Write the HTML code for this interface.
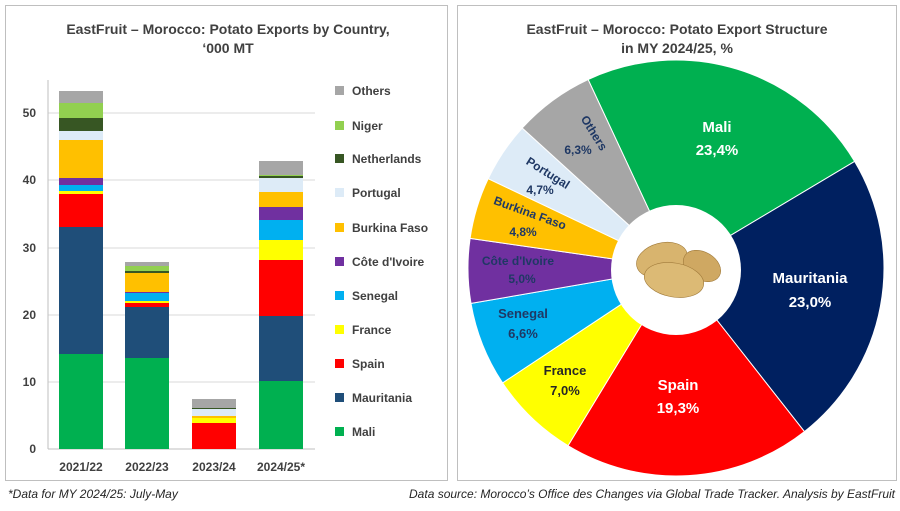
<!DOCTYPE html>
<html><head><meta charset="utf-8"><style>
body{margin:0;width:900px;height:506px;background:#fff;font-family:"Liberation Sans",sans-serif;overflow:hidden}
</style></head><body>
<svg width="900" height="506" viewBox="0 0 900 506" xmlns="http://www.w3.org/2000/svg" font-family="Liberation Sans, sans-serif">
<rect x="5.5" y="5.5" width="442" height="475" fill="#fff" stroke="#bfbfbf"/>
<rect x="457.5" y="5.5" width="439" height="475" fill="#fff" stroke="#bfbfbf"/>
<g font-weight="bold" font-size="14" fill="#404040" text-anchor="middle">
<text x="228" y="34">EastFruit – Morocco: Potato Exports by Country,</text>
<text x="228" y="53">‘000 MT</text>
<text x="677" y="34">EastFruit – Morocco: Potato Export Structure</text>
<text x="677" y="53">in MY 2024/25, %</text>
</g>
<g stroke="#d9d9d9" stroke-width="1">
<line x1="48" y1="382" x2="315" y2="382"/><line x1="48" y1="315" x2="315" y2="315"/>
<line x1="48" y1="248" x2="315" y2="248"/><line x1="48" y1="180" x2="315" y2="180"/>
<line x1="48" y1="113" x2="315" y2="113"/>
</g>
<line x1="48" y1="80" x2="48" y2="449" stroke="#bfbfbf"/>
<line x1="48" y1="449" x2="315" y2="449" stroke="#bfbfbf"/>
<g font-weight="bold" font-size="12" fill="#404040" text-anchor="end">
<text x="36" y="453">0</text><text x="36" y="386">10</text><text x="36" y="319">20</text>
<text x="36" y="252">30</text><text x="36" y="184">40</text><text x="36" y="117">50</text>
</g>
<g font-weight="bold" font-size="12" fill="#404040" text-anchor="middle">
<text x="81" y="471">2021/22</text><text x="147" y="471">2022/23</text>
<text x="214" y="471">2023/24</text><text x="281" y="471">2024/25*</text>
</g>
<g>
<rect x="59" y="354" width="44" height="95" fill="#00b050"/>
<rect x="59" y="227" width="44" height="127" fill="#1f4e79"/>
<rect x="59" y="194" width="44" height="33" fill="#ff0000"/>
<rect x="59" y="191" width="44" height="3" fill="#ffff00"/>
<rect x="59" y="185" width="44" height="6" fill="#00b0f0"/>
<rect x="59" y="178" width="44" height="7" fill="#7030a0"/>
<rect x="59" y="140" width="44" height="38" fill="#ffc000"/>
<rect x="59" y="131" width="44" height="9" fill="#ddebf7"/>
<rect x="59" y="118" width="44" height="13" fill="#375623"/>
<rect x="59" y="103" width="44" height="15" fill="#92d050"/>
<rect x="59" y="91" width="44" height="12" fill="#a6a6a6"/>

<rect x="125" y="358" width="44" height="91" fill="#00b050"/>
<rect x="125" y="307" width="44" height="51" fill="#1f4e79"/>
<rect x="125" y="303" width="44" height="4" fill="#ff0000"/>
<rect x="125" y="301" width="44" height="2" fill="#ffff00"/>
<rect x="125" y="293" width="44" height="8" fill="#00b0f0"/>
<rect x="125" y="292" width="44" height="1" fill="#7030a0"/>
<rect x="125" y="273" width="44" height="19" fill="#ffc000"/>
<rect x="125" y="271" width="44" height="2" fill="#375623"/>
<rect x="125" y="266" width="44" height="5" fill="#92d050"/>
<rect x="125" y="262" width="44" height="4" fill="#a6a6a6"/>

<rect x="192" y="423" width="44" height="26" fill="#ff0000"/>
<rect x="192" y="418" width="44" height="5" fill="#ffff00"/>
<rect x="192" y="416" width="44" height="2" fill="#ffc000"/>
<rect x="192" y="409" width="44" height="7" fill="#ddebf7"/>
<rect x="192" y="408" width="44" height="1" fill="#375623"/>
<rect x="192" y="399" width="44" height="9" fill="#a6a6a6"/>

<rect x="259" y="381" width="44" height="68" fill="#00b050"/>
<rect x="259" y="316" width="44" height="65" fill="#1f4e79"/>
<rect x="259" y="260" width="44" height="56" fill="#ff0000"/>
<rect x="259" y="240" width="44" height="20" fill="#ffff00"/>
<rect x="259" y="220" width="44" height="20" fill="#00b0f0"/>
<rect x="259" y="207" width="44" height="13" fill="#7030a0"/>
<rect x="259" y="192" width="44" height="15" fill="#ffc000"/>
<rect x="259" y="178" width="44" height="14" fill="#ddebf7"/>
<rect x="259" y="176" width="44" height="2" fill="#375623"/>
<rect x="259" y="175" width="44" height="1" fill="#92d050"/>
<rect x="259" y="161" width="44" height="14" fill="#a6a6a6"/>
</g>
<g font-weight="bold" font-size="12" fill="#404040">
<rect x="335" y="86" width="9" height="9" fill="#a6a6a6"/><text x="352" y="95">Others</text>
<rect x="335" y="121" width="9" height="9" fill="#92d050"/><text x="352" y="130">Niger</text>
<rect x="335" y="154" width="9" height="9" fill="#375623"/><text x="352" y="163">Netherlands</text>
<rect x="335" y="188" width="9" height="9" fill="#ddebf7"/><text x="352" y="197">Portugal</text>
<rect x="335" y="223" width="9" height="9" fill="#ffc000"/><text x="352" y="232">Burkina Faso</text>
<rect x="335" y="257" width="9" height="9" fill="#7030a0"/><text x="352" y="266">Côte d'Ivoire</text>
<rect x="335" y="291" width="9" height="9" fill="#00b0f0"/><text x="352" y="300">Senegal</text>
<rect x="335" y="325" width="9" height="9" fill="#ffff00"/><text x="352" y="334">France</text>
<rect x="335" y="359" width="9" height="9" fill="#ff0000"/><text x="352" y="368">Spain</text>
<rect x="335" y="393" width="9" height="9" fill="#1f4e79"/><text x="352" y="402">Mauritania</text>
<rect x="335" y="427" width="9" height="9" fill="#00b050"/><text x="352" y="436">Mali</text>
</g>
<g stroke="#fff" stroke-width="1">
<path d="M676,268 L588.1,79.5 A208,208 0 0 1 854.6,161.4 Z" fill="#00b050"/>
<path d="M676,268 L854.6,161.4 A208,208 0 0 1 804.4,431.6 Z" fill="#002060"/>
<path d="M676,268 L804.4,431.6 A208,208 0 0 1 568.0,445.7 Z" fill="#ff0000"/>
<path d="M676,268 L568.0,445.7 A208,208 0 0 1 502.6,382.9 Z" fill="#ffff00"/>
<path d="M676,268 L502.6,382.9 A208,208 0 0 1 471.0,303.4 Z" fill="#00b0f0"/>
<path d="M676,268 L471.0,303.4 A208,208 0 0 1 470.1,238.4 Z" fill="#7030a0"/>
<path d="M676,268 L470.1,238.4 A208,208 0 0 1 488.2,178.7 Z" fill="#ffc000"/>
<path d="M676,268 L488.2,178.7 A208,208 0 0 1 522.2,128.0 Z" fill="#ddebf7"/>
<path d="M676,268 L522.2,128.0 A208,208 0 0 1 588.1,79.5 Z" fill="#a6a6a6"/>
</g>
<circle cx="676" cy="270" r="65" fill="#fff"/>
<g stroke="#a07a3a" stroke-width="0.6">
<ellipse cx="662" cy="260" rx="26" ry="17" fill="#d8b46e" transform="rotate(-15 662 260)"/>
<ellipse cx="702" cy="266" rx="20" ry="14" fill="#cfa862" transform="rotate(30 702 266)"/>
<ellipse cx="674" cy="280" rx="30" ry="17" fill="#dcba75" transform="rotate(10 674 280)"/>
</g>
<g font-weight="bold" text-anchor="middle">
<g fill="#fff" font-size="15">
<text x="717" y="132">Mali</text><text x="717" y="155">23,4%</text>
<text x="810" y="283">Mauritania</text><text x="810" y="307">23,0%</text>
<text x="678" y="390">Spain</text><text x="678" y="413">19,3%</text>
</g>
<g fill="#1f3864" font-size="13">
<text x="565" y="375" fill="#262626">France</text><text x="565" y="395" fill="#262626">7,0%</text>
<text x="523" y="318">Senegal</text><text x="523" y="338">6,6%</text>
<text x="518" y="265" font-size="12">Côte d'Ivoire</text><text x="522" y="283" font-size="12">5,0%</text>
<text x="530" y="217" transform="rotate(20 530 213)" font-size="12">Burkina Faso</text>
<text x="523" y="236" font-size="12">4,8%</text>
<text x="548" y="177" transform="rotate(32 548 173)" font-size="12">Portugal</text>
<text x="540" y="194" font-size="12">4,7%</text>
<text x="594" y="137" transform="rotate(58 594 133)" font-size="12">Others</text>
<text x="578" y="154" font-size="12">6,3%</text>
</g>
</g>
<g font-style="italic" font-size="12" fill="#262626">
<text x="8" y="498">*Data for MY 2024/25: July-May</text>
<text x="895" y="498" text-anchor="end">Data source: Morocco’s Office des Changes via Global Trade Tracker. Analysis by EastFruit</text>
</g>
</svg>
</body></html>
